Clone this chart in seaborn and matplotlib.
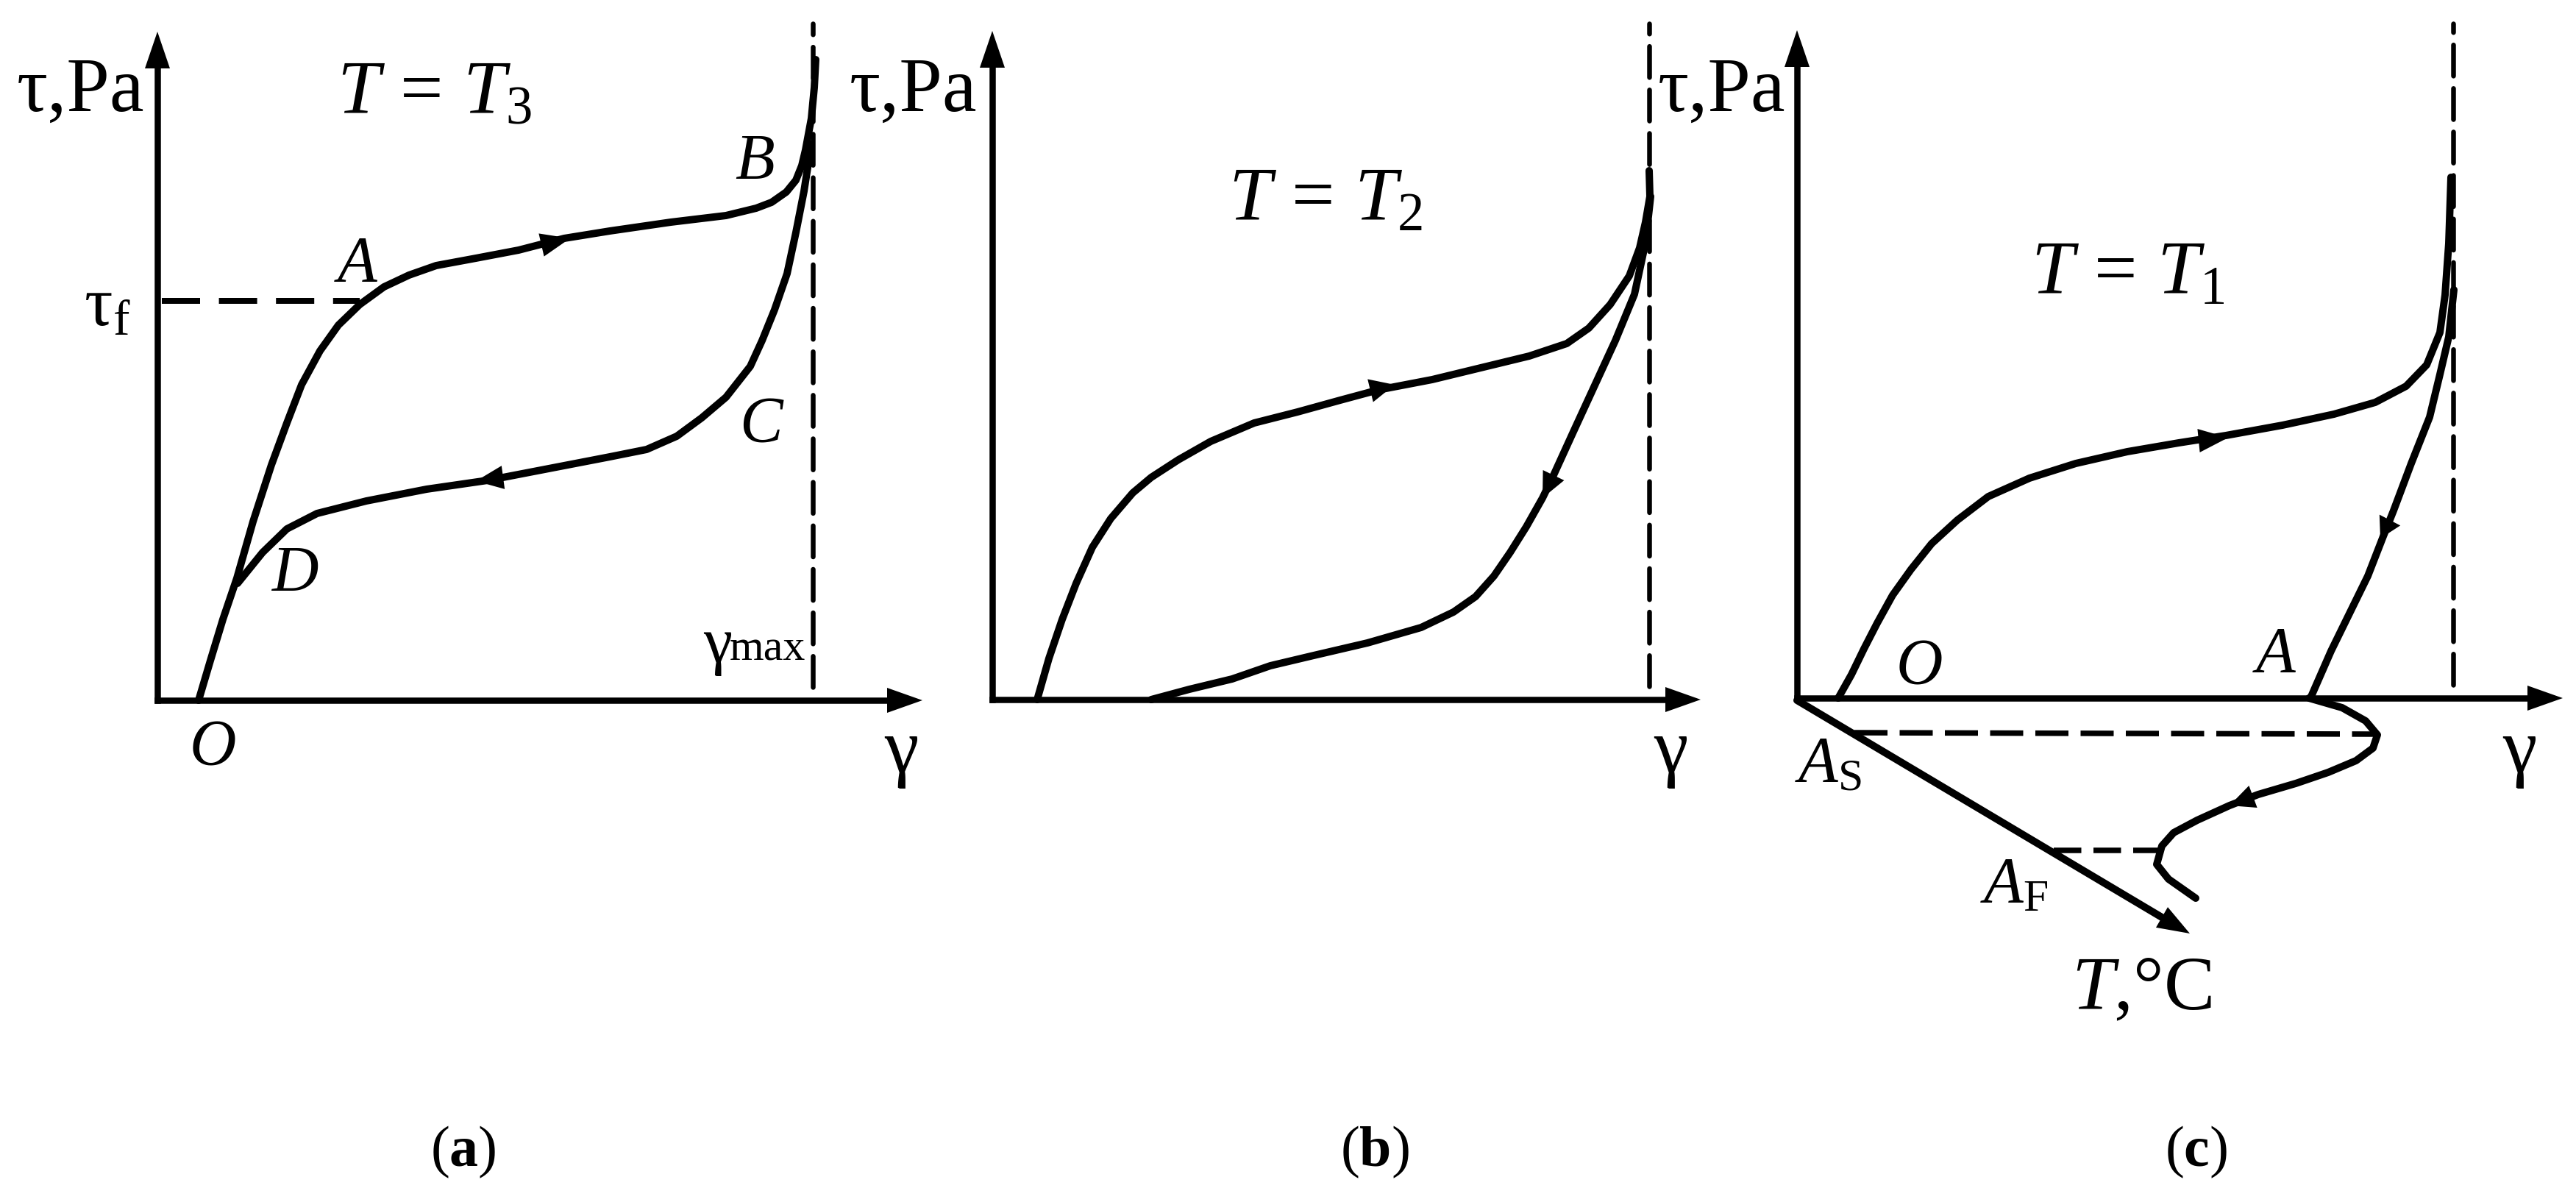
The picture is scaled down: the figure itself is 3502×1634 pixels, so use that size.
import matplotlib
matplotlib.use("Agg")
import matplotlib.pyplot as plt
import seaborn as sns

W, H, DPI = 3502, 1634, 200

sns.set_theme(style="white")
plt.rcParams.update({
    "font.family":       ["Liberation Serif", "DejaVu Serif"],
    "mathtext.fontset":  "custom",
    "mathtext.rm":       "Liberation Serif",
    "mathtext.it":       "Liberation Serif:italic",
    "mathtext.bf":       "Liberation Serif:bold",
})

# panel (a), T = T3
a_load_gamma = [56, 72, 89, 108, 130, 155, 176, 196, 221, 246, 275, 308, 342, 379, 433, 491,
                553, 615, 698, 773, 814, 835, 855, 868, 876, 881, 889, 893, 895]
a_load_tau = [0, 54, 110, 166, 243, 320, 377, 429, 475, 510, 538, 562, 578, 591, 601, 612,
              628, 638, 650, 659, 669, 677, 691, 707, 727, 748, 791, 833, 871]
a_unload_gamma = [889, 879, 868, 856, 839, 822, 806, 773, 740, 706, 665, 615, 532, 449, 366, 284,
                  217, 176, 143, 109]
a_unload_tau = [756, 692, 636, 580, 531, 489, 454, 412, 384, 359, 341, 331, 315, 299, 287, 271,
                254, 233, 201, 159]
a_yield_gamma = [6, 275]
a_yield_tau = [543, 543]

# panel (b), T = T2
b_load_gamma = [61, 77, 95, 114, 136, 161, 191, 216, 253, 297, 356, 415, 473, 525, 598, 664,
                730, 781, 811, 840, 866, 880, 888, 894, 893]
b_load_tau = [0, 56, 109, 158, 207, 246, 281, 302, 326, 351, 376, 391, 407, 421, 435, 451,
              467, 484, 505, 537, 576, 614, 649, 684, 719]
b_unload_gamma = [895, 888, 873, 847, 818, 789, 763, 748, 726, 704, 682, 657, 627, 583, 510, 437,
                  378, 326, 268, 216]
b_unload_tau = [684, 621, 551, 488, 425, 362, 305, 274, 235, 200, 168, 140, 119, 98, 77, 60,
                46, 28, 14, 0]

# panel (c), T = T1
c_load_gamma = [56, 74, 91, 109, 130, 155, 183, 218, 260, 316, 379, 449, 519, 583, 660, 730,
                786, 828, 856, 874, 881, 886, 889]
c_load_tau = [0, 32, 67, 102, 140, 175, 210, 242, 274, 299, 319, 335, 347, 357, 371, 386,
              402, 424, 453, 497, 548, 618, 708]
c_unload_gamma = [893, 886, 874, 860, 835, 811, 797, 776, 751, 726, 698]
c_unload_tau = [555, 491, 440, 382, 319, 255, 220, 166, 115, 64, 0]
c_heat_gamma = [696, 741, 773, 789, 783, 760, 722, 678, 627, 588, 544, 512, 496, 489, 505, 542]
c_heat_tau = [0, -13, -31, -50, -68, -85, -101, -116, -131, -146, -166, -183, -201, -226, -246, -272]
c_temp_gamma = [0, 496]
c_temp_tau = [-3, -298]
c_start_gamma = [78, 786]
c_start_tau = [-47, -49]
c_finish_gamma = [349, 493]
c_finish_tau = [-207, -207]

PANELS = [
    dict(ox=214, oy=952, top=909, right=1040, vline=891,
         curves=[(a_load_gamma, a_load_tau), (a_unload_gamma, a_unload_tau)],
         heads=[((561, 628), (522, 619)), ((433, 298), (470, 303))]),
    dict(ox=1349, oy=951, top=909, right=963, vline=893,
         curves=[(b_load_gamma, b_load_tau), (b_unload_gamma, b_unload_tau)],
         heads=[((547, 428), (514, 420)), ((748, 274), (763, 305))]),
    dict(ox=2443, oy=949, top=908, right=1041, vline=892,
         curves=[(c_load_gamma, c_load_tau), (c_unload_gamma, c_unload_tau),
                 (c_heat_gamma, c_heat_tau), (c_temp_gamma, c_temp_tau)],
         heads=[((586, 354), (546, 350)), ((793, 217), (806, 242)), ((588, -146), (620, -134))]),
]

def px(v):
    return v * 72 / DPI

def head(ax, tip, base, half=16):
    # filled triangle on a line, tip is where it points to
    dx, dy = tip[0] - base[0], tip[1] - base[1]
    n = (dx**2 + dy**2) ** 0.5
    nx, ny = -dy / n * half, dx / n * half
    ax.fill([tip[0], base[0] + nx, base[0] - nx], [tip[1], base[1] + ny, base[1] - ny],
            color="black", lw=0, clip_on=False, zorder=5)

def label(x, y, s, size=100):
    fig.text(x / W, 1 - y / H, s, fontsize=px(size), color="black", ha="left", va="baseline")

fig = plt.figure(figsize=(W / DPI, H / DPI), dpi=DPI, facecolor="white")

for p in PANELS:
    ax = fig.add_axes([0, 0, 1, 1], facecolor="none")
    ax.set_xlim(-p["ox"], W - p["ox"])
    ax.set_ylim(p["oy"] - H, p["oy"])
    ax.set_xticks([]); ax.set_yticks([])
    sns.despine(ax=ax)
    for name, end in (("left", p["top"] - 40), ("bottom", p["right"] - 40)):
        ax.spines[name].set_position(("data", 0))
        ax.spines[name].set_bounds(0, end)
        ax.spines[name].set_linewidth(px(8.5))
        ax.spines[name].set_color("black")
    head(ax, (0, p["top"]), (0, p["top"] - 50), half=17)
    head(ax, (p["right"], 0), (p["right"] - 48, 0), half=17)
    for g, t in p["curves"]:
        sns.lineplot(x=g, y=t, sort=False, estimator=None, color="black", lw=px(10), ax=ax,
                     solid_capstyle="round", solid_joinstyle="round")
    for tip, base in p["heads"]:
        head(ax, tip, base)
    ax.plot([p["vline"], p["vline"]], [18, p["oy"] - 32], color="black", lw=px(6.5),
            dashes=(6.5, 2.6), dash_capstyle="round")
    ax.set_xlabel(""); ax.set_ylabel("")
    p["ax"] = ax

# dashed guides
PANELS[0]["ax"].plot(a_yield_gamma, a_yield_tau, color="black", lw=px(8), dashes=(6.5, 3.2))
PANELS[2]["ax"].plot(c_start_gamma, c_start_tau, color="black", lw=px(7.5), dashes=(6, 2.2))
PANELS[2]["ax"].plot(c_finish_gamma, c_finish_tau, color="black", lw=px(7.5), dashes=(5, 2.2))
head(PANELS[2]["ax"], (534, -320), (496, -298))

for x in (23, 1155, 2254):
    label(x, 151, "τ,Pa", 105)
label(458, 154, r"$T\/=\/T_{3}$", 104)
label(1670, 300, r"$T\/=\/T_{2}$", 104)
label(2761, 400, r"$T\/=\/T_{1}$", 104)

label(114, 443, r"τ$_{\mathrm{f}}$", 96)
label(454, 382, r"$A$", 88)
label(999, 243, r"$B$", 88)
label(1005, 600, r"$C$", 88)
label(369, 803, r"$D$", 88)
label(257, 1039, r"$O$", 88)
label(956, 900, "γ", 88)
label(992, 898, "max", 60)

for x in (1202, 2248, 3402):
    label(x, 1049, "γ", 105)

label(2577, 929, r"$O$", 88)
label(3062, 913, r"$A$", 88)
label(2440, 1062, r"$A_{\mathrm{S}}$", 88)
label(2692, 1227, r"$A_{\mathrm{F}}$", 88)
label(2816, 1372, r"$T$,°C", 104)

label(585, 1585, r"($\mathbf{a}$)", 78)
label(1822, 1585, r"($\mathbf{b}$)", 78)
label(2943, 1585, r"($\mathbf{c}$)", 78)

fig.savefig("out.png", dpi=DPI)
